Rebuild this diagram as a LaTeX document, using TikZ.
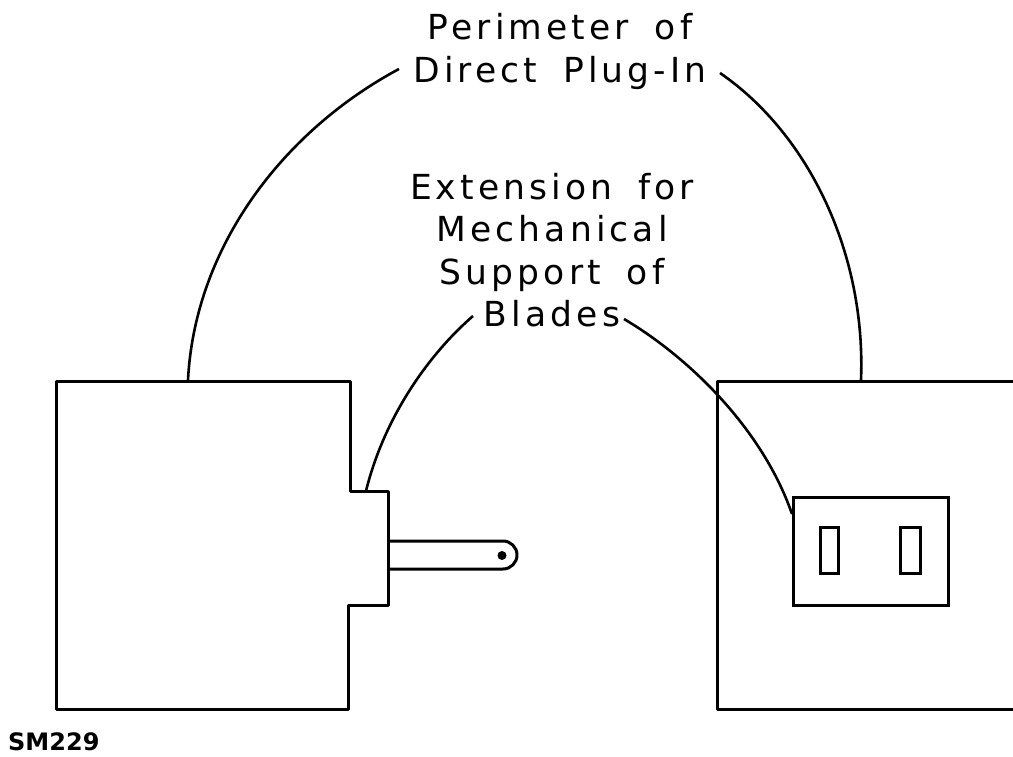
\documentclass[tikz,border=0pt]{standalone}
\usepackage{fontspec}
\setmainfont[LetterSpace=12,WordSpace=1.7]{DejaVu Sans}
\newfontfamily\codefont{DejaVu Sans}
\begin{document}
\begin{tikzpicture}[x=1pt,y=-1pt,
  outline/.style={draw=black,line width=3pt,line join=round},
  leader/.style={draw=black,line width=2.6pt},
  boxnode/.style={draw=black,line width=3pt,inner sep=0pt},
  lbl/.style={inner sep=0pt,align=center,font=\fontsize{34.5}{42.5}\selectfont},
  code/.style={inner sep=0pt,anchor=west,font=\codefont\bfseries\fontsize{24}{28}\selectfont}]
\useasboundingbox (0,0) rectangle (1013,757);
\fill[white] (0,0) rectangle (1013,757);
% left unit
\draw[outline] (350,491) -- (350,381) -- (56,381) -- (56,709) -- (348,709) -- (348,605) -- (388,605) -- (388,491) -- cycle;
\draw[outline] (388,541) -- (503,541) arc[start angle=-90,end angle=90,radius=14] -- (388,569);
\fill (502,555.5) circle (4.5);
% right unit
\draw[outline] (1013,381) -- (717,381) -- (717,709) -- (1013,709);
\node[boxnode,minimum width=155pt,minimum height=108pt] (plate) at (870.5,551) {};
\node[boxnode,minimum width=18pt,minimum height=46pt] (slotA) at (829,550) {};
\node[boxnode,minimum width=20pt,minimum height=46pt] (slotB) at (910,550) {};
% labels
\node[lbl] (perim) at (560,51.5) {Perimeter of\\Direct Plug-In};
\node[lbl] (ext) at (552,250) {Extension for\\Mechanical\\Support of\\Blades};
\node[code] (sm) at (8,742) {SM229};
% leader ends
\coordinate (pa) at (399,69);
\coordinate (pb) at (720,73);
\coordinate (pc) at (188,380);
\coordinate (pd) at (861,380);
\coordinate (ea) at (473,316);
\coordinate (eb) at (624,319);
\coordinate (ec) at (366,491);
\coordinate (ed) at (792,514);
\draw[leader] (pa) .. controls (285,130) and (195,245) .. (pc);
\draw[leader] (pb) .. controls (810,135) and (866,255) .. (pd);
\draw[leader] (ea) .. controls (428,355) and (384,418) .. (ec);
\draw[leader] (eb) .. controls (690,358) and (763,430) .. (ed);
\end{tikzpicture}
\end{document}
